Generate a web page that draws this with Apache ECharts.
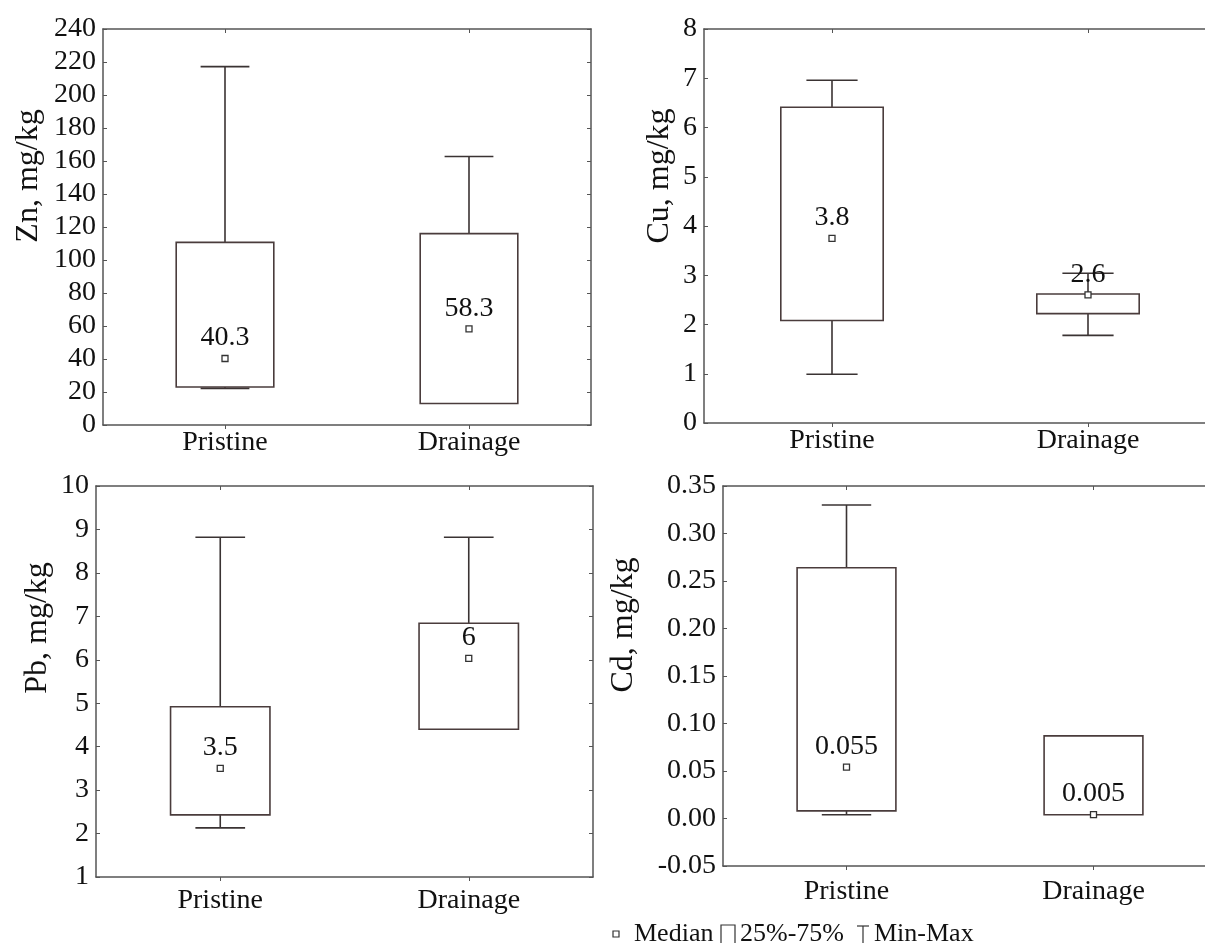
<!DOCTYPE html>
<html>
<head>
<meta charset="utf-8">
<script src="https://cdn.jsdelivr.net/npm/echarts@6/dist/echarts.min.js"></script>
<style>
html,body{margin:0;padding:0;background:#fff;overflow:hidden;width:1205px;height:943px;}
#chart{width:1225px;height:943px;}
</style>
</head>
<body>
<div id="chart"></div>
<script>
// ---- data ----
const categories = ['Pristine', 'Drainage'];

const znMin = [22.2, 13.0];
const znQ1 = [23.0, 13.0];
const znMedian = [40.3, 58.3];
const znQ3 = [110.7, 116.0];
const znMax = [217.2, 162.7];
const znLabels = ['40.3', '58.3'];

const cuMin = [0.99, 1.78];
const cuQ1 = [2.08, 2.22];
const cuMedian = [3.75, 2.6];
const cuQ3 = [6.41, 2.62];
const cuMax = [6.96, 3.04];
const cuLabels = ['3.8', '2.6'];

const pbMin = [2.13, 4.40];
const pbQ1 = [2.43, 4.40];
const pbMedian = [3.5, 6.03];
const pbQ3 = [4.92, 6.84];
const pbMax = [8.82, 8.82];
const pbLabels = ['3.5', '6'];

const cdMin = [0.004, 0.004];
const cdQ1 = [0.008, 0.004];
const cdMedian = [0.054, 0.004];
const cdQ3 = [0.264, 0.087];
const cdMax = [0.330, 0.087];
const cdLabels = ['0.055', '0.005'];

const axisTitles = ['Zn, mg/kg', 'Cu, mg/kg', 'Pb, mg/kg', 'Cd, mg/kg'];
const legendLabels = ['Median', '25%-75%', 'Min-Max'];

// ---- styling / layout ----
const FONT = '"Liberation Serif", "Times New Roman", serif';
const AXIS_COLOR = '#555';
const LINE_COLOR = '#3a3333';
const TEXT_COLOR = '#111';

// the right-hand panels run past the picture's right edge (cropped in the reference)
const grids = [
  {left: 103, top: 29, width: 488, height: 396},
  {left: 704, top: 29, width: 512, height: 394},
  {left: 96, top: 486, width: 497, height: 391},
  {left: 723, top: 486, width: 494, height: 380}
];
const yRanges = [
  {min: 0, max: 240, interval: 20, fmt: v => String(Math.round(v))},
  {min: 0, max: 8, interval: 1, fmt: v => String(Math.round(v))},
  {min: 1, max: 10, interval: 1, fmt: v => String(Math.round(v))},
  {min: -0.05, max: 0.35, interval: 0.05, fmt: v => (Math.round(v * 100) / 100).toFixed(2)}
];
const xLabelMargins = [4, 4, 10, 12];
const titlePos = [[29, 176], [660, 176], [38, 628], [624, 625]];

const panels = [
  {min: znMin, q1: znQ1, med: znMedian, q3: znQ3, max: znMax, labels: znLabels},
  {min: cuMin, q1: cuQ1, med: cuMedian, q3: cuQ3, max: cuMax, labels: cuLabels},
  {min: pbMin, q1: pbQ1, med: pbMedian, q3: pbQ3, max: pbMax, labels: pbLabels},
  {min: cdMin, q1: cdQ1, med: cdMedian, q3: cdQ3, max: cdMax, labels: cdLabels}
];

const xAxes = [], yAxes = [], series = [];

panels.forEach((p, i) => {
  const r = yRanges[i];
  xAxes.push({
    type: 'category', gridIndex: i, data: categories, position: 'bottom',
    boundaryGap: true,
    axisLine: {show: true, onZero: false, lineStyle: {color: AXIS_COLOR, width: 1.5}},
    axisTick: {show: true, alignWithLabel: true, inside: false, length: 4, lineStyle: {color: AXIS_COLOR}},
    axisLabel: {show: true, margin: xLabelMargins[i], color: TEXT_COLOR, fontFamily: FONT, fontSize: 28},
    splitLine: {show: false}
  });
  xAxes.push({
    type: 'category', gridIndex: i, data: categories, position: 'top',
    boundaryGap: true,
    axisLine: {show: true, onZero: false, lineStyle: {color: AXIS_COLOR, width: 1.5}},
    axisTick: {show: true, alignWithLabel: true, inside: true, length: 4, lineStyle: {color: AXIS_COLOR}},
    axisLabel: {show: false},
    splitLine: {show: false}
  });
  yAxes.push({
    type: 'value', gridIndex: i, position: 'left',
    min: r.min, max: r.max, interval: r.interval,
    axisLine: {show: true, onZero: false, lineStyle: {color: AXIS_COLOR, width: 1.5}},
    axisTick: {show: true, inside: true, length: 4, lineStyle: {color: AXIS_COLOR}},
    axisLabel: {show: true, margin: 7, color: TEXT_COLOR, fontFamily: FONT, fontSize: 28, formatter: r.fmt},
    splitLine: {show: false}
  });
  yAxes.push({
    type: 'value', gridIndex: i, position: 'right',
    min: r.min, max: r.max, interval: r.interval,
    axisLine: {show: true, onZero: false, lineStyle: {color: AXIS_COLOR, width: 1.5}},
    axisTick: {show: true, inside: true, length: 4, lineStyle: {color: AXIS_COLOR}},
    axisLabel: {show: false},
    splitLine: {show: false}
  });

  const boxData = categories.map((c, k) => [k, p.min[k], p.q1[k], p.q3[k], p.max[k]]);
  series.push({
    type: 'custom', name: '25%-75%',
    xAxisIndex: i * 2, yAxisIndex: i * 2,
    data: boxData,
    encode: {x: 0, y: [1, 2, 3, 4]},
    z: 2,
    renderItem: function (params, api) {
      const c = api.value(0);
      const vMin = api.value(1), q1 = api.value(2), q3 = api.value(3), vMax = api.value(4);
      const band = api.size([1, 0])[0];
      const half = band * 0.2;
      const capHalf = band * 0.1;
      const pMin = api.coord([c, vMin]);
      const pQ1 = api.coord([c, q1]);
      const pQ3 = api.coord([c, q3]);
      const pMax = api.coord([c, vMax]);
      const x = pQ1[0];
      const ls = {stroke: LINE_COLOR, lineWidth: 1.6, fill: null};
      const children = [];
      if (vMax > q3) {
        children.push({type: 'line', shape: {x1: x, y1: pMax[1], x2: x, y2: pQ3[1]}, style: ls});
        children.push({type: 'line', shape: {x1: x - capHalf, y1: pMax[1], x2: x + capHalf, y2: pMax[1]}, style: ls});
      }
      if (vMin < q1) {
        children.push({type: 'line', shape: {x1: x, y1: pQ1[1], x2: x, y2: pMin[1]}, style: ls});
        children.push({type: 'line', shape: {x1: x - capHalf, y1: pMin[1], x2: x + capHalf, y2: pMin[1]}, style: ls});
      }
      children.push({
        type: 'rect',
        shape: {x: x - half, y: pQ3[1], width: half * 2, height: pQ1[1] - pQ3[1]},
        style: {stroke: '#4a3c3c', lineWidth: 1.6, fill: '#fff'}
      });
      return {type: 'group', children: children};
    }
  });

  series.push({
    type: 'scatter', name: 'Median',
    xAxisIndex: i * 2, yAxisIndex: i * 2,
    data: categories.map((c, k) => [k, p.med[k]]),
    symbol: 'rect', symbolSize: 6,
    itemStyle: {color: '#fff', borderColor: '#333', borderWidth: 1.3, opacity: 1},
    z: 5,
    label: {
      show: true, position: 'top', distance: 3, opacity: 1,
      fontFamily: FONT, fontSize: 28, color: TEXT_COLOR,
      formatter: (prm) => p.labels[prm.dataIndex]
    },
    emphasis: {disabled: true}
  });
});

const graphics = axisTitles.map((t, i) => ({
  type: 'text', x: titlePos[i][0], y: titlePos[i][1], rotation: Math.PI / 2,
  style: {text: t, font: '32px ' + FONT, fill: TEXT_COLOR, textAlign: 'center', textVerticalAlign: 'middle'}
}));

graphics.push({type: 'rect', shape: {x: 613, y: 931, width: 6, height: 6}, style: {fill: '#fff', stroke: '#333', lineWidth: 1.2}});
graphics.push({type: 'text', x: 634, y: 934, style: {text: legendLabels[0], font: '26px ' + FONT, fill: TEXT_COLOR, textVerticalAlign: 'middle'}});
graphics.push({type: 'rect', shape: {x: 721, y: 925, width: 14, height: 22}, style: {fill: '#fff', stroke: '#333', lineWidth: 1.2}});
graphics.push({type: 'text', x: 740, y: 934, style: {text: legendLabels[1], font: '26px ' + FONT, fill: TEXT_COLOR, textVerticalAlign: 'middle'}});
graphics.push({type: 'line', shape: {x1: 857, y1: 926, x2: 869, y2: 926}, style: {stroke: '#333', lineWidth: 1.2}});
graphics.push({type: 'line', shape: {x1: 863, y1: 926, x2: 863, y2: 945}, style: {stroke: '#333', lineWidth: 1.2}});
graphics.push({type: 'text', x: 874, y: 934, style: {text: legendLabels[2], font: '26px ' + FONT, fill: TEXT_COLOR, textVerticalAlign: 'middle'}});

const chart = echarts.init(document.getElementById('chart'), null, {renderer: 'canvas'});
chart.setOption({
  backgroundColor: '#fff',
  animation: false,
  grid: grids.map(g => Object.assign({containLabel: false}, g)),
  xAxis: xAxes,
  yAxis: yAxes,
  series: series,
  graphic: graphics
});
</script>
</body>
</html>
